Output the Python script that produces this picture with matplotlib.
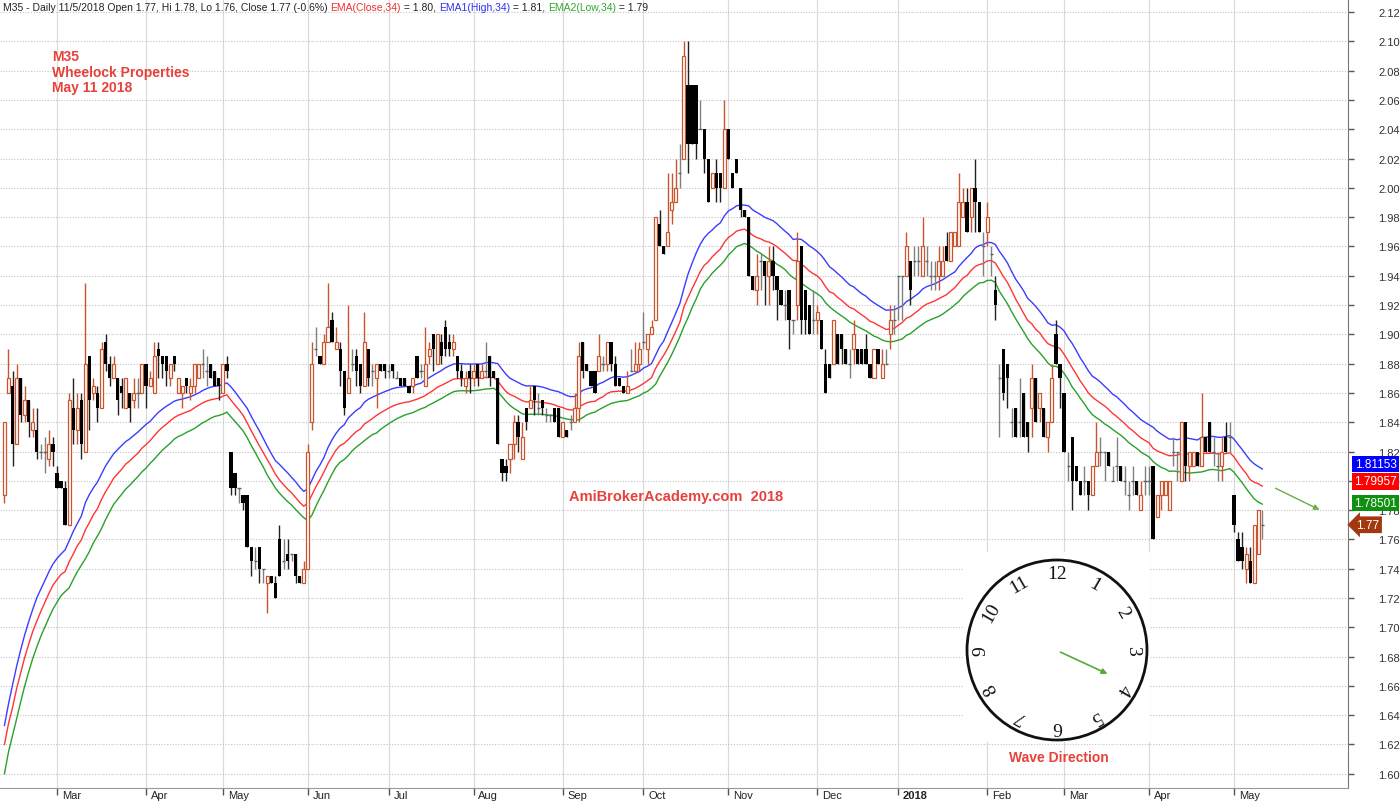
import numpy as np
import pandas as pd
import matplotlib
matplotlib.use('Agg')
import matplotlib.pyplot as plt
from matplotlib.patches import Circle, Rectangle

# ---- daily candles, one list per month: (open, high, low, close) ----
feb17 = [(1.79, 1.84, 1.785, 1.84), (1.86, 1.89, 1.86, 1.87), (1.865, 1.875, 1.81, 1.825),
         (1.825, 1.88, 1.825, 1.87), (1.87, 1.87, 1.84, 1.845), (1.845, 1.865, 1.84, 1.855),
         (1.855, 1.855, 1.83, 1.84), (1.835, 1.85, 1.83, 1.84), (1.835, 1.85, 1.815, 1.82),
         (1.82, 1.825, 1.815, 1.82), (1.82, 1.83, 1.805, 1.82), (1.815, 1.835, 1.81, 1.825),
         (1.825, 1.83, 1.81, 1.82)]
mar17 = [(1.805, 1.81, 1.795, 1.795), (1.80, 1.80, 1.795, 1.795), (1.795, 1.80, 1.77, 1.77),
         (1.77, 1.86, 1.77, 1.855), (1.85, 1.87, 1.825, 1.835), (1.835, 1.86, 1.825, 1.85),
         (1.855, 1.86, 1.815, 1.825), (1.82, 1.935, 1.82, 1.88), (1.885, 1.885, 1.835, 1.855),
         (1.86, 1.87, 1.855, 1.865), (1.86, 1.865, 1.84, 1.85), (1.85, 1.895, 1.85, 1.89),
         (1.895, 1.90, 1.875, 1.88), (1.88, 1.885, 1.865, 1.87), (1.87, 1.885, 1.87, 1.88),
         (1.87, 1.87, 1.845, 1.855), (1.865, 1.87, 1.85, 1.86), (1.85, 1.87, 1.85, 1.87),
         (1.86, 1.86, 1.84, 1.85), (1.855, 1.87, 1.85, 1.86), (1.86, 1.87, 1.85, 1.86),
         (1.86, 1.88, 1.86, 1.88)]
apr17 = [(1.88, 1.88, 1.85, 1.865), (1.865, 1.875, 1.865, 1.87), (1.86, 1.895, 1.86, 1.885),
         (1.89, 1.895, 1.87, 1.885), (1.885, 1.885, 1.87, 1.88), (1.885, 1.885, 1.865, 1.875),
         (1.87, 1.88, 1.865, 1.88), (1.885, 1.885, 1.875, 1.88), (1.86, 1.87, 1.86, 1.87),
         (1.86, 1.865, 1.85, 1.865), (1.87, 1.87, 1.86, 1.865), (1.86, 1.87, 1.855, 1.865),
         (1.865, 1.88, 1.86, 1.88), (1.87, 1.88, 1.87, 1.88), (1.88, 1.89, 1.87, 1.88),
         (1.875, 1.885, 1.865, 1.875), (1.88, 1.88, 1.87, 1.87), (1.875, 1.875, 1.865, 1.865),
         (1.87, 1.87, 1.855, 1.865)]
may17 = [(1.86, 1.88, 1.86, 1.88), (1.88, 1.885, 1.87, 1.875), (1.82, 1.82, 1.79, 1.795),
         (1.805, 1.805, 1.79, 1.795), (1.795, 1.795, 1.785, 1.795), (1.79, 1.79, 1.78, 1.785),
         (1.79, 1.79, 1.755, 1.755), (1.755, 1.755, 1.735, 1.745), (1.745, 1.755, 1.74, 1.745),
         (1.755, 1.755, 1.73, 1.74), (1.74, 1.74, 1.73, 1.74), (1.73, 1.735, 1.71, 1.735),
         (1.735, 1.735, 1.73, 1.73), (1.73, 1.735, 1.72, 1.72), (1.76, 1.77, 1.735, 1.735),
         (1.745, 1.76, 1.74, 1.745), (1.75, 1.76, 1.74, 1.745), (1.75, 1.75, 1.745, 1.75),
         (1.75, 1.75, 1.73, 1.735), (1.735, 1.735, 1.73, 1.73), (1.73, 1.745, 1.73, 1.74)]
jun17 = [(1.74, 1.825, 1.74, 1.82), (1.84, 1.895, 1.835, 1.88), (1.89, 1.905, 1.885, 1.89),
         (1.885, 1.885, 1.88, 1.88), (1.88, 1.90, 1.88, 1.895), (1.895, 1.935, 1.895, 1.905),
         (1.91, 1.915, 1.895, 1.895), (1.89, 1.905, 1.89, 1.895), (1.89, 1.895, 1.865, 1.875),
         (1.875, 1.875, 1.845, 1.85), (1.86, 1.92, 1.86, 1.87), (1.88, 1.89, 1.875, 1.88),
         (1.885, 1.89, 1.865, 1.875), (1.88, 1.88, 1.86, 1.865), (1.865, 1.915, 1.865, 1.895),
         (1.89, 1.89, 1.865, 1.87), (1.875, 1.88, 1.865, 1.875), (1.87, 1.88, 1.85, 1.88),
         (1.88, 1.88, 1.875, 1.875), (1.88, 1.88, 1.87, 1.875)]
jul17 = [(1.875, 1.88, 1.87, 1.875), (1.88, 1.88, 1.87, 1.875), (1.87, 1.875, 1.87, 1.87),
         (1.87, 1.87, 1.865, 1.865), (1.87, 1.87, 1.865, 1.865), (1.865, 1.865, 1.86, 1.86),
         (1.865, 1.87, 1.86, 1.87), (1.885, 1.885, 1.87, 1.87), (1.875, 1.88, 1.87, 1.875),
         (1.865, 1.905, 1.865, 1.88), (1.885, 1.895, 1.88, 1.89), (1.90, 1.90, 1.875, 1.89),
         (1.88, 1.90, 1.88, 1.90), (1.895, 1.90, 1.88, 1.885), (1.905, 1.91, 1.885, 1.89),
         (1.895, 1.90, 1.885, 1.89), (1.89, 1.90, 1.885, 1.895), (1.885, 1.885, 1.87, 1.875),
         (1.875, 1.88, 1.865, 1.87), (1.865, 1.875, 1.86, 1.87), (1.875, 1.88, 1.86, 1.87)]
aug17 = [(1.87, 1.88, 1.865, 1.875), (1.88, 1.88, 1.865, 1.87), (1.87, 1.88, 1.87, 1.875),
         (1.875, 1.895, 1.87, 1.875), (1.885, 1.885, 1.865, 1.87), (1.875, 1.875, 1.87, 1.87),
         (1.87, 1.87, 1.825, 1.825), (1.815, 1.815, 1.80, 1.805), (1.81, 1.815, 1.80, 1.805),
         (1.815, 1.825, 1.805, 1.825), (1.825, 1.845, 1.815, 1.84), (1.84, 1.845, 1.82, 1.83),
         (1.815, 1.84, 1.815, 1.83), (1.85, 1.85, 1.835, 1.84), (1.85, 1.865, 1.85, 1.855),
         (1.865, 1.865, 1.845, 1.855), (1.85, 1.86, 1.845, 1.85), (1.855, 1.855, 1.845, 1.85),
         (1.845, 1.85, 1.84, 1.845), (1.845, 1.845, 1.84, 1.845), (1.85, 1.85, 1.84, 1.84),
         (1.85, 1.85, 1.83, 1.83)]
sep17 = [(1.83, 1.84, 1.83, 1.84), (1.835, 1.835, 1.83, 1.83), (1.84, 1.845, 1.835, 1.84),
         (1.84, 1.86, 1.84, 1.85), (1.85, 1.895, 1.84, 1.885), (1.895, 1.895, 1.87, 1.875),
         (1.88, 1.88, 1.875, 1.875), (1.875, 1.875, 1.865, 1.865), (1.875, 1.875, 1.86, 1.86),
         (1.875, 1.90, 1.875, 1.885), (1.88, 1.885, 1.875, 1.88), (1.88, 1.895, 1.875, 1.895),
         (1.895, 1.895, 1.875, 1.88), (1.88, 1.885, 1.865, 1.865), (1.87, 1.87, 1.865, 1.865),
         (1.865, 1.865, 1.86, 1.86), (1.86, 1.875, 1.86, 1.865), (1.875, 1.89, 1.875, 1.875),
         (1.875, 1.895, 1.875, 1.88), (1.88, 1.895, 1.875, 1.89)]
oct17 = [(1.895, 1.915, 1.89, 1.895), (1.89, 1.90, 1.88, 1.90), (1.90, 1.91, 1.90, 1.905),
         (1.91, 1.98, 1.91, 1.98), (1.975, 1.985, 1.96, 1.96), (1.96, 1.96, 1.955, 1.955),
         (1.96, 2.01, 1.96, 1.97), (1.985, 2.01, 1.975, 1.99), (1.99, 2.02, 1.99, 2.00),
         (2.01, 2.03, 2.00, 2.01), (2.02, 2.10, 2.02, 2.09), (2.07, 2.10, 2.01, 2.03),
         (2.07, 2.07, 2.03, 2.03), (2.07, 2.07, 2.02, 2.03), (2.04, 2.06, 2.04, 2.04),
         (2.04, 2.04, 2.01, 2.02), (2.02, 2.02, 1.99, 1.99), (2.00, 2.01, 2.00, 2.01),
         (2.01, 2.02, 1.99, 2.00), (2.01, 2.01, 1.99, 2.00), (2.00, 2.06, 2.00, 2.04)]
nov17 = [(2.04, 2.04, 2.02, 2.02), (2.01, 2.01, 2.00, 2.00), (2.02, 2.02, 2.01, 2.01),
         (2.00, 2.00, 1.98, 1.985), (1.985, 1.985, 1.98, 1.98), (1.98, 1.98, 1.94, 1.94),
         (1.94, 1.94, 1.93, 1.93), (1.93, 1.955, 1.92, 1.94), (1.95, 1.955, 1.93, 1.95),
         (1.95, 1.95, 1.92, 1.94), (1.94, 1.96, 1.92, 1.95), (1.95, 1.96, 1.93, 1.94),
         (1.94, 1.94, 1.91, 1.93), (1.93, 1.93, 1.92, 1.92), (1.92, 1.93, 1.91, 1.92),
         (1.93, 1.93, 1.89, 1.91), (1.91, 1.91, 1.90, 1.91), (1.92, 1.97, 1.91, 1.95),
         (1.96, 1.96, 1.90, 1.91), (1.93, 1.93, 1.90, 1.91), (1.92, 1.92, 1.90, 1.90),
         (1.91, 1.93, 1.90, 1.91)]
dec17 = [(1.91, 1.92, 1.90, 1.915), (1.91, 1.91, 1.89, 1.89), (1.88, 1.89, 1.86, 1.86),
         (1.88, 1.88, 1.87, 1.87), (1.88, 1.91, 1.88, 1.91), (1.90, 1.90, 1.88, 1.88),
         (1.90, 1.90, 1.88, 1.89), (1.89, 1.89, 1.88, 1.88), (1.88, 1.89, 1.87, 1.88),
         (1.89, 1.91, 1.88, 1.90), (1.89, 1.89, 1.88, 1.88), (1.89, 1.89, 1.88, 1.88),
         (1.89, 1.90, 1.88, 1.88), (1.88, 1.88, 1.87, 1.87), (1.87, 1.89, 1.87, 1.89),
         (1.89, 1.89, 1.88, 1.88), (1.87, 1.89, 1.87, 1.88), (1.88, 1.89, 1.88, 1.88),
         (1.90, 1.92, 1.89, 1.91), (1.91, 1.92, 1.90, 1.91)]
jan18 = [(1.94, 1.94, 1.91, 1.94), (1.94, 1.94, 1.91, 1.94), (1.94, 1.97, 1.94, 1.96),
         (1.95, 1.95, 1.92, 1.93), (1.95, 1.96, 1.94, 1.95), (1.95, 1.96, 1.94, 1.95),
         (1.94, 1.98, 1.94, 1.96), (1.95, 1.96, 1.94, 1.95), (1.94, 1.95, 1.93, 1.94),
         (1.94, 1.95, 1.93, 1.94), (1.94, 1.96, 1.93, 1.95), (1.94, 1.96, 1.94, 1.95),
         (1.96, 1.97, 1.95, 1.95), (1.95, 1.97, 1.95, 1.97), (1.96, 1.97, 1.96, 1.97),
         (1.96, 2.01, 1.96, 1.99), (1.98, 2.00, 1.98, 1.99), (1.99, 2.00, 1.97, 1.97),
         (1.98, 2.00, 1.97, 2.00), (2.00, 2.02, 1.97, 1.99), (1.99, 1.99, 1.97, 1.97),
         (1.96, 1.97, 1.94, 1.96)]
feb18 = [(1.97, 1.99, 1.96, 1.98), (1.955, 1.96, 1.94, 1.955), (1.93, 1.94, 1.91, 1.92),
         (1.87, 1.88, 1.83, 1.87), (1.89, 1.89, 1.855, 1.86), (1.88, 1.88, 1.85, 1.87),
         (1.84, 1.85, 1.83, 1.84), (1.85, 1.85, 1.83, 1.83), (1.84, 1.87, 1.83, 1.84),
         (1.86, 1.86, 1.83, 1.83), (1.84, 1.84, 1.82, 1.83), (1.85, 1.88, 1.83, 1.87),
         (1.87, 1.87, 1.84, 1.84), (1.85, 1.86, 1.84, 1.86), (1.85, 1.85, 1.83, 1.83),
         (1.83, 1.84, 1.82, 1.84), (1.84, 1.88, 1.84, 1.87), (1.90, 1.91, 1.88, 1.88),
         (1.88, 1.88, 1.85, 1.87)]
mar18 = [(1.86, 1.86, 1.82, 1.82), (1.81, 1.82, 1.80, 1.81), (1.83, 1.83, 1.78, 1.80),
         (1.81, 1.81, 1.80, 1.80), (1.80, 1.80, 1.79, 1.79), (1.80, 1.81, 1.79, 1.80),
         (1.80, 1.80, 1.78, 1.79), (1.79, 1.81, 1.79, 1.81), (1.81, 1.84, 1.81, 1.82),
         (1.82, 1.83, 1.81, 1.82), (1.82, 1.82, 1.80, 1.82), (1.82, 1.82, 1.81, 1.81),
         (1.80, 1.81, 1.80, 1.80), (1.81, 1.83, 1.80, 1.81), (1.81, 1.81, 1.80, 1.80),
         (1.80, 1.81, 1.79, 1.80), (1.79, 1.80, 1.78, 1.79), (1.80, 1.81, 1.79, 1.80),
         (1.80, 1.80, 1.79, 1.79), (1.78, 1.80, 1.78, 1.79), (1.80, 1.81, 1.79, 1.80)]
apr18 = [(1.80, 1.81, 1.79, 1.80), (1.81, 1.81, 1.76, 1.76), (1.775, 1.79, 1.775, 1.79),
         (1.79, 1.80, 1.78, 1.80), (1.79, 1.80, 1.79, 1.80), (1.78, 1.80, 1.78, 1.80),
         (1.82, 1.83, 1.81, 1.82), (1.82, 1.82, 1.80, 1.82), (1.80, 1.84, 1.80, 1.84),
         (1.84, 1.84, 1.80, 1.81), (1.81, 1.82, 1.80, 1.82), (1.81, 1.82, 1.81, 1.82),
         (1.82, 1.82, 1.81, 1.81), (1.81, 1.86, 1.81, 1.83), (1.83, 1.83, 1.82, 1.82),
         (1.84, 1.84, 1.82, 1.82), (1.82, 1.83, 1.81, 1.82), (1.81, 1.82, 1.80, 1.81),
         (1.81, 1.83, 1.80, 1.82), (1.83, 1.84, 1.82, 1.82), (1.83, 1.84, 1.82, 1.83)]
may18 = [(1.79, 1.79, 1.765, 1.77), (1.76, 1.765, 1.745, 1.745), (1.755, 1.765, 1.74, 1.745),
         (1.74, 1.755, 1.73, 1.75), (1.745, 1.755, 1.73, 1.73), (1.73, 1.77, 1.73, 1.77),
         (1.75, 1.78, 1.75, 1.78), (1.77, 1.78, 1.76, 1.77)]

month_data = [feb17, mar17, apr17, may17, jun17, jul17, aug17, sep17, oct17,
              nov17, dec17, jan18, feb18, mar18, apr18, may18]
month_names = ['Mar', 'Apr', 'May', 'Jun', 'Jul', 'Aug', 'Sep', 'Oct', 'Nov',
               'Dec', '2018', 'Feb', 'Mar', 'Apr', 'May']

# values of the three EMA(34) lines at the first bar
ema_start_high = 1.633
ema_start_close = 1.620
ema_start_low = 1.600

# last values shown in the boxes on the price axis
last_text = ['1.81153', '1.79957', '1.78501']
last_value = [1.81153, 1.79957, 1.78501]
last_close = 1.77

ohlc = np.array([bar for m in month_data for bar in m])
open_p, high_p, low_p, close_p = ohlc.T
x = np.arange(len(close_p))
month_start = np.cumsum([len(m) for m in month_data])[:-1]


def ema(values, start):
    s = pd.Series(values.copy())
    s.iloc[0] = start
    return s.ewm(span=34, adjust=False).mean().values


plt.rcParams['font.family'] = ['Liberation Sans', 'DejaVu Sans']

W, H = 1400, 803
fig = plt.figure(figsize=(W / 100, H / 100), dpi=100)
ax = fig.add_axes([0, 1 - 789 / H, 1348 / W, 789 / H])

orange = '#c8552d'
red_txt = '#e8413c'

# ---- grid ----
for i in month_start:
    ax.axvline(i, color='#d9d9d9', lw=0.8, zorder=0)
ax.set_yticks(np.arange(1.60, 2.1201, 0.02))
ax.yaxis.grid(True, color='#c4c4c4', linestyle=(0, (1, 1.5)), lw=0.8)
ax.set_axisbelow(True)

# ---- EMA lines ----
ax.plot(x, ema(high_p, ema_start_high), color='#3c3cff', lw=1, zorder=2)
ax.plot(x, ema(close_p, ema_start_close), color='#ff3535', lw=1, zorder=2)
ax.plot(x, ema(low_p, ema_start_low), color='#2aa02a', lw=1, zorder=2)

# ---- candles ----
up = close_p > open_p
dn = close_p < open_p
fl = ~(up | dn)
ax.vlines(x[up], low_p[up], high_p[up], color=orange, lw=1, zorder=3)
ax.vlines(x[dn], low_p[dn], high_p[dn], color='#222222', lw=1, zorder=3)
ax.vlines(x[fl], low_p[fl], high_p[fl], color='#808080', lw=1, zorder=3)
ax.bar(x[up], (close_p - open_p)[up], bottom=open_p[up], width=0.75,
       facecolor='white', edgecolor=orange, lw=0.9, zorder=4)
ax.bar(x[dn], (open_p - close_p)[dn], bottom=close_p[dn], width=0.8,
       color='black', lw=0, zorder=4)
ax.hlines(close_p[fl], x[fl] - 0.4, x[fl] + 0.4, color='#606060', lw=1, zorder=4)

# ---- axes ----
ax.set_xlim(-1.1, 332.2)
ax.set_ylim(1.5903, 2.1289)
ax.yaxis.tick_right()
ax.set_yticklabels([f'{v:.2f}' for v in np.arange(1.60, 2.1201, 0.02)])
ax.tick_params(axis='y', direction='out', length=4, width=1, color='#555555',
               pad=18, labelsize=8, labelcolor='#333333')
ax.set_xticks(month_start)
ax.set_xticklabels([])
ax.tick_params(axis='x', direction='out', length=5, width=1, color='#555555')
for s in ['top', 'left']:
    ax.spines[s].set_visible(False)
ax.spines['right'].set_color('#777777')
ax.spines['bottom'].set_color('#999999')

for i, name in zip(month_start, month_names):
    ax.text(i + 1.2, -0.003, name, transform=ax.get_xaxis_transform(),
            ha='left', va='top', fontsize=8, color='#222222',
            fontweight='bold' if name == '2018' else 'normal')

# ---- overlay in pixel coordinates ----
ov = fig.add_axes([0, 0, 1, 1], zorder=5)
ov.set_xlim(0, W)
ov.set_ylim(H, 0)
ov.axis('off')
ov.patch.set_alpha(0)


def y_pix(v):
    return H - ax.transData.transform((0, v))[1]


# header line with coloured pieces
renderer = fig.canvas.get_renderer()
pieces = [('M35 - Daily 11/5/2018 Open 1.77, Hi 1.78, Lo 1.76, Close 1.77 (-0.6%) ', '#222222'),
          ('EMA(Close,34)', '#f03030'), (' = 1.80, ', '#222222'),
          ('EMA1(High,34)', '#3030f0'), (' = 1.81, ', '#222222'),
          ('EMA2(Low,34)', '#30a830'), (' = 1.79', '#222222')]
hx = 3
for txt, col in pieces:
    t = ov.text(hx, 8, txt, color=col, fontsize=7.5, ha='left', va='center')
    hx += t.get_window_extent(renderer).width

for j, line in enumerate(['M35', 'Wheelock Properties', 'May 11 2018']):
    ov.text(52, 57 + j * 15.5, line, color=red_txt, fontsize=10, fontweight='bold', va='center')
ov.text(676, 497, 'AmiBrokerAcademy.com  2018', color=red_txt, fontsize=10.5,
        fontweight='bold', ha='center', va='center')

# price boxes
for txt, v, col in zip(last_text, last_value, ['#0000ff', '#ff0000', '#109010']):
    ov.text(1375.5, y_pix(v), txt, color='white', fontsize=8.5, ha='center', va='center',
            bbox=dict(boxstyle='square,pad=0.18', fc=col, ec='none'))
ov.text(1368, y_pix(last_close), f'{last_close:.2f}', color='white', fontsize=8.5,
        ha='center', va='center', bbox=dict(boxstyle='larrow,pad=0.2', fc='#a3380f', ec='none'))

ov.annotate('', xy=(1322, 512), xytext=(1273, 488),
            arrowprops=dict(arrowstyle='-|>', color='#6aae44', lw=1, mutation_scale=8))

# ---- clock ----
cx, cy, r = 1057, 651, 90
ov.add_patch(Rectangle((963, 553), 187, 190, fc='white', ec='none'))
ov.add_patch(Circle((cx, cy), r, fill=False, ec='#111111', lw=2))
for k in range(1, 13):
    a = np.radians(30 * k)
    ov.text(cx + 76 * np.sin(a), cy - 76 * np.cos(a), str(k), rotation=-30 * k,
            rotation_mode='anchor', ha='center', va='center', fontsize=14,
            family='Liberation Serif', color='#111111')
ov.annotate('', xy=(1110, 676), xytext=(1058, 652),
            arrowprops=dict(arrowstyle='-|>', color='#5aa83a', lw=1.2, mutation_scale=8))
ov.text(1059, 758, 'Wave Direction', color=red_txt, fontsize=10, fontweight='bold',
        ha='center', va='center')

fig.savefig('out.png', dpi=100)
